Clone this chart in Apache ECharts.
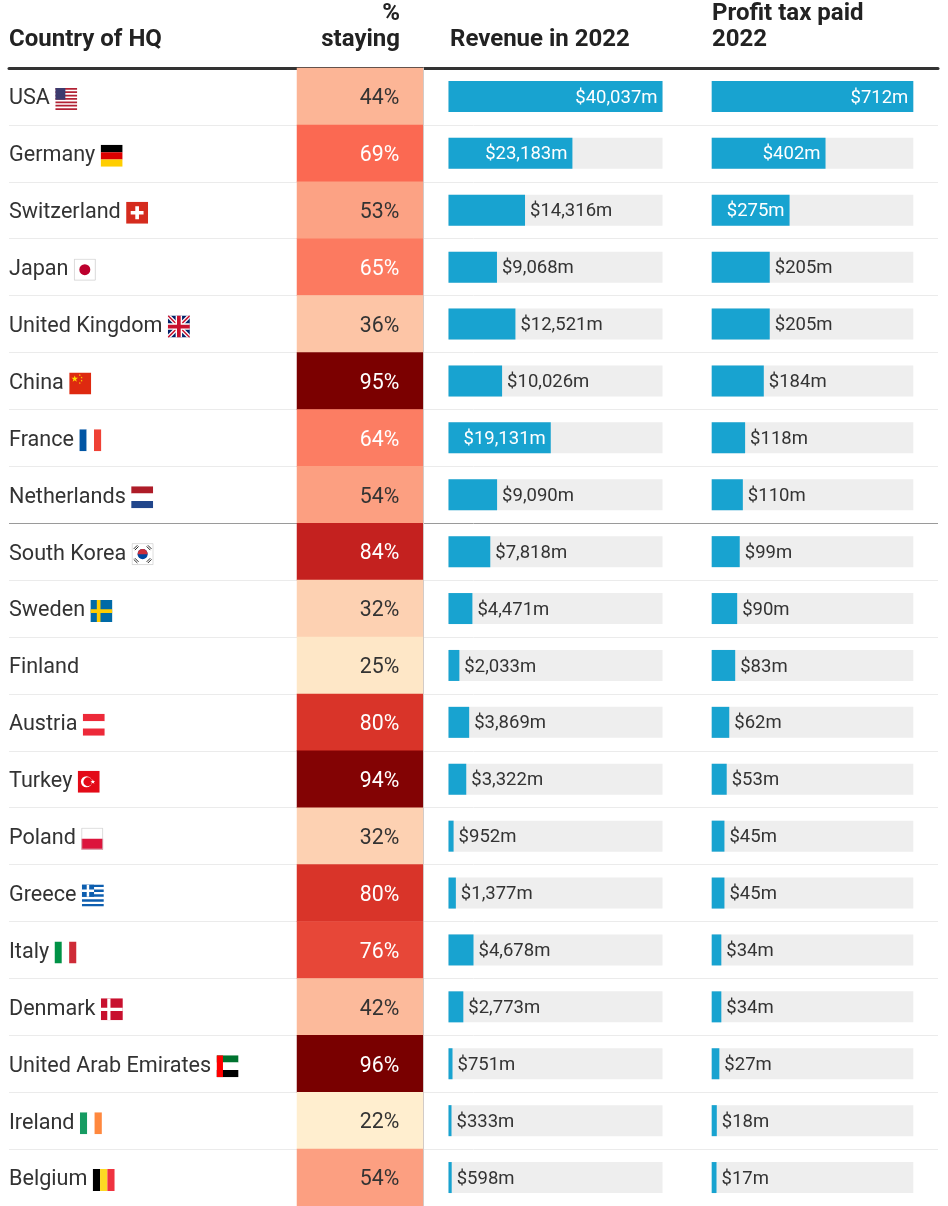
<!DOCTYPE html>
<html>
<head>
<meta charset="utf-8">
<title>Country of HQ</title>
<script src="https://cdn.jsdelivr.net/npm/echarts@6/dist/echarts.min.js"></script>
<style>
  html, body { margin: 0; padding: 0; background: #fff; }
  #chart { width: 948px; height: 1206px; }
</style>
</head>
<body>
<div id="chart"></div>
<script>
// ---- data ----
const countries = ['USA', 'Germany', 'Switzerland', 'Japan', 'United Kingdom', 'China', 'France', 'Netherlands',
  'South Korea', 'Sweden', 'Finland', 'Austria', 'Turkey', 'Poland', 'Greece', 'Italy', 'Denmark',
  'United Arab Emirates', 'Ireland', 'Belgium'];
const flagCodes = ['us', 'de', 'ch', 'jp', 'gb', 'cn', 'fr', 'nl', 'kr', 'se', '', 'at', 'tr', 'pl', 'gr', 'it', 'dk', 'ae', 'ie', 'be'];
const staying = [44, 69, 53, 65, 36, 95, 64, 54, 84, 32, 25, 80, 94, 32, 80, 76, 42, 96, 22, 54];
const revenue = [40037, 23183, 14316, 9068, 12521, 10026, 19131, 9090, 7818, 4471, 2033, 3869, 3322, 952, 1377, 4678, 2773, 751, 333, 598];
const profitTax = [712, 402, 275, 205, 205, 184, 118, 110, 99, 90, 83, 62, 53, 45, 45, 34, 34, 27, 18, 17];

// ---- little flag pictures (svg) ----
const svg = inner => 'data:image/svg+xml;charset=utf-8,' + encodeURIComponent(
  '<svg xmlns="http://www.w3.org/2000/svg" width="24" height="24" viewBox="0 0 24 24">' + inner + '</svg>');
const h3 = (a, b, c) => `<rect width="24" height="8" fill="${a}"/><rect y="8" width="24" height="8" fill="${b}"/><rect y="16" width="24" height="8" fill="${c}"/>`;
const v3 = (a, b, c) => `<rect width="8" height="24" fill="${a}"/><rect x="8" width="8" height="24" fill="${b}"/><rect x="16" width="8" height="24" fill="${c}"/>`;
const outline = '<rect x="0.5" y="0.5" width="23" height="23" fill="none" stroke="#cfcfcf"/>';
function star(cx, cy, r, fill) {
  let pts = [];
  for (let k = 0; k < 10; k++) {
    const a = -Math.PI / 2 + k * Math.PI / 5;
    const rr = k % 2 ? r * 0.4 : r;
    pts.push((cx + rr * Math.cos(a)).toFixed(2) + ',' + (cy + rr * Math.sin(a)).toFixed(2));
  }
  return `<polygon points="${pts.join(' ')}" fill="${fill}"/>`;
}
function stripes(n, color) {
  let s = '';
  const h = 24 / n;
  for (let k = 0; k < n; k += 2) s += `<rect y="${(k * h).toFixed(2)}" width="24" height="${h.toFixed(2)}" fill="${color}"/>`;
  return s;
}
const flagSvg = {
  us: svg('<rect width="24" height="24" fill="#fff"/>' + stripes(13, '#b22234') + '<rect width="11" height="13" fill="#3c3b6e"/>'),
  de: svg(h3('#000', '#dd0000', '#ffce00')),
  ch: svg('<rect width="24" height="24" fill="#d52b1e"/><rect x="10" y="5" width="4" height="14" fill="#fff"/><rect x="5" y="10" width="14" height="4" fill="#fff"/>'),
  jp: svg('<rect width="24" height="24" fill="#fff"/><circle cx="12" cy="12" r="6" fill="#bc002d"/>' + outline),
  gb: svg('<rect width="24" height="24" fill="#012169"/><path d="M0 0L24 24M24 0L0 24" stroke="#fff" stroke-width="4.5"/><path d="M0 0L24 24M24 0L0 24" stroke="#c8102e" stroke-width="1.6"/><path d="M12 0V24M0 12H24" stroke="#fff" stroke-width="7"/><path d="M12 0V24M0 12H24" stroke="#c8102e" stroke-width="4"/>'),
  cn: svg('<rect width="24" height="24" fill="#de2910"/>' + star(6, 7, 3.8, '#ffde00') + star(11.5, 3, 1.2, '#ffde00') + star(13.5, 5.5, 1.2, '#ffde00') + star(13.5, 9, 1.2, '#ffde00') + star(11.5, 11.5, 1.2, '#ffde00')),
  fr: svg(v3('#0055a4', '#fff', '#ef4135')),
  nl: svg(h3('#ae1c28', '#fff', '#21468b')),
  kr: svg('<rect width="24" height="24" fill="#fff"/><circle cx="12" cy="12" r="5.5" fill="#0047a0"/><path d="M6.5 12A5.5 5.5 0 0 1 17.5 12Z" fill="#cd2e3a"/><path d="M2.3 6.3L6.3 2.3M3.6 7.6L7.6 3.6M17.7 2.3L21.7 6.3M16.4 3.6L20.4 7.6M2.3 17.7L6.3 21.7M3.6 16.4L7.6 20.4M17.7 21.7L21.7 17.7M16.4 20.4L20.4 16.4" stroke="#000" stroke-width="0.9"/>' + outline),
  se: svg('<rect width="24" height="24" fill="#006aa7"/><rect x="7" width="4" height="24" fill="#fecc00"/><rect y="10" width="24" height="4" fill="#fecc00"/>'),
  at: svg(h3('#ed2939', '#fff', '#ed2939')),
  tr: svg('<rect width="24" height="24" fill="#e30a17"/><circle cx="9.5" cy="12" r="6" fill="#fff"/><circle cx="11" cy="12" r="4.8" fill="#e30a17"/>' + star(16.5, 12, 2.8, '#fff')),
  pl: svg('<rect width="24" height="12" fill="#fff"/><rect y="12" width="24" height="12" fill="#dc143c"/>' + outline),
  gr: svg('<rect width="24" height="24" fill="#fff"/>' + stripes(9, '#0d5eaf') + '<rect width="13.33" height="13.33" fill="#0d5eaf"/><rect x="5.33" width="2.67" height="13.33" fill="#fff"/><rect y="5.33" width="13.33" height="2.67" fill="#fff"/>'),
  it: svg(v3('#009246', '#fff', '#ce2b37')),
  dk: svg('<rect width="24" height="24" fill="#c8102e"/><rect x="7" width="3.5" height="24" fill="#fff"/><rect y="10.25" width="24" height="3.5" fill="#fff"/>'),
  ae: svg('<rect width="24" height="8" fill="#00732f"/><rect y="8" width="24" height="8" fill="#fff"/><rect y="16" width="24" height="8" fill="#000"/><rect width="7" height="24" fill="#ff0000"/>'),
  ie: svg(v3('#169b62', '#fff', '#ff883e')),
  be: svg(v3('#000', '#fdda24', '#ef3340'))
};

// ---- styling ----
const FONT = 'Roboto';
const TEXT = '#333';
const BLUE = '#18a3d0';
const TOP = 68;
const REV_LEFT = 448.5, REV_W = 214;
const TAX_LEFT = 711.7, TAX_W = 201.6;
const LABEL_SIZE = 18.5;

const rich = { n: { fontSize: 21.6, fontFamily: FONT, color: TEXT, verticalAlign: 'middle' } };
Object.keys(flagSvg).forEach(k => {
  rich['f_' + k] = { width: 22, height: 22, verticalAlign: 'middle', backgroundColor: { image: flagSvg[k] } };
});

// pick inside/outside placement for each bar label
const measure = document.createElement('canvas').getContext('2d');
measure.font = LABEL_SIZE + 'px ' + FONT;
const money = v => '$' + v.toLocaleString('en-US') + 'm';
function barData(values, width) {
  const max = Math.max(...values);
  return values.map(v => {
    const inside = measure.measureText(money(v)).width + 12 <= v / max * width;
    return { value: v, label: { position: inside ? 'insideRight' : 'right', color: inside ? '#fff' : TEXT } };
  });
}

// split lines: light, with a darker one after the 8th row
const splitColors = countries.map((c, i) => i === 8 ? '#9a9a9a' : '#ebebeb').concat(['#ebebeb']);

const chart = echarts.init(document.getElementById('chart'));

const headerStyle = { font: 'bold 24px ' + FONT, fill: '#222', verticalAlign: 'middle' };

chart.setOption({
  animation: false,
  grid: [
    { left: 9, right: 10, top: TOP, bottom: 0 },
    { left: 297, width: 126, top: TOP, bottom: 0 },
    { left: REV_LEFT, width: REV_W, top: TOP, bottom: 0 },
    { left: TAX_LEFT, width: TAX_W, top: TOP, bottom: 0 }
  ],
  xAxis: [
    { gridIndex: 0, type: 'value', position: 'top', min: 0, max: 1,
      axisLine: { show: true, lineStyle: { color: '#333', width: 3 } },
      axisTick: { show: false }, axisLabel: { show: false }, splitLine: { show: false } },
    { gridIndex: 1, type: 'category', data: ['staying'], show: false },
    { gridIndex: 2, type: 'value', min: 0, max: Math.max(...revenue), show: false },
    { gridIndex: 3, type: 'value', min: 0, max: Math.max(...profitTax), show: false }
  ],
  yAxis: [
    { gridIndex: 0, type: 'category', data: countries, inverse: true,
      axisLine: { show: false }, axisTick: { show: false },
      axisLabel: {
        inside: true, margin: 0, fontSize: 21.6, fontFamily: FONT, color: TEXT, rich: rich,
        padding: [5, 0, 0, 0],
        formatter: (value, idx) => flagCodes[idx] ? `{n|${value}} {f_${flagCodes[idx]}| }` : `{n|${value}}`
      },
      splitLine: { show: true, lineStyle: { color: splitColors, width: 1 } } },
    { gridIndex: 1, type: 'category', data: countries, inverse: true, position: 'right', z: 5,
      axisLine: { show: true, lineStyle: { color: '#d2cbc7', width: 1 } },
      axisTick: { show: false }, axisLabel: { show: false }, splitLine: { show: false } },
    { gridIndex: 2, type: 'category', data: countries, inverse: true, show: false },
    { gridIndex: 3, type: 'category', data: countries, inverse: true, show: false }
  ],
  visualMap: {
    type: 'continuous', show: false, seriesIndex: 0, dimension: 2, min: 20, max: 100,
    inRange: {
      color: ['#fff3d4', '#fee7c7', '#fdd8b9', '#fdc6a8', '#fcbf9f', '#fcb394', '#fcaa8c', '#fc9c7e', '#fc8b6f',
        '#fc7a60', '#fb654f', '#eb4c3c', '#d93429', '#bf1c1d', '#a30f12', '#7b0000', '#700000']
    }
  },
  graphic: [
    { type: 'text', x: 9, y: 40, style: Object.assign({ text: 'Country of HQ', align: 'left' }, headerStyle) },
    { type: 'text', x: 400, y: 14, style: Object.assign({ text: '%', align: 'right' }, headerStyle) },
    { type: 'text', x: 400, y: 40, style: Object.assign({ text: 'staying', align: 'right' }, headerStyle) },
    { type: 'text', x: 450, y: 40, style: Object.assign({ text: 'Revenue in 2022', align: 'left' }, headerStyle) },
    { type: 'text', x: 712, y: 14, style: Object.assign({ text: 'Profit tax paid', align: 'left' }, headerStyle) },
    { type: 'text', x: 712, y: 40, style: Object.assign({ text: '2022', align: 'left' }, headerStyle) }
  ],
  series: [
    {
      type: 'heatmap', xAxisIndex: 1, yAxisIndex: 1,
      data: staying.map((v, i) => ({ value: [0, i, v], label: { color: v >= 60 ? '#fff' : TEXT } })),
      label: { show: true, position: 'insideRight', distance: 24, offset: [0, 2.5], fontSize: 21.3, fontFamily: FONT,
        formatter: p => p.value[2] + '%' },
      emphasis: { disabled: true }
    },
    {
      type: 'bar', xAxisIndex: 2, yAxisIndex: 2, data: barData(revenue, REV_W),
      barWidth: 31, barMinHeight: 3, itemStyle: { color: BLUE },
      showBackground: true, backgroundStyle: { color: '#eeeeee' },
      label: { show: true, distance: 5, offset: [0, 1.5], fontSize: LABEL_SIZE, fontFamily: FONT, formatter: p => money(p.value) },
      emphasis: { disabled: true }
    },
    {
      type: 'bar', xAxisIndex: 3, yAxisIndex: 3, data: barData(profitTax, TAX_W),
      barWidth: 31, barMinHeight: 3, itemStyle: { color: BLUE },
      showBackground: true, backgroundStyle: { color: '#eeeeee' },
      label: { show: true, distance: 5, offset: [0, 1.5], fontSize: LABEL_SIZE, fontFamily: FONT, formatter: p => money(p.value) },
      emphasis: { disabled: true }
    }
  ]
});
</script>
</body>
</html>
